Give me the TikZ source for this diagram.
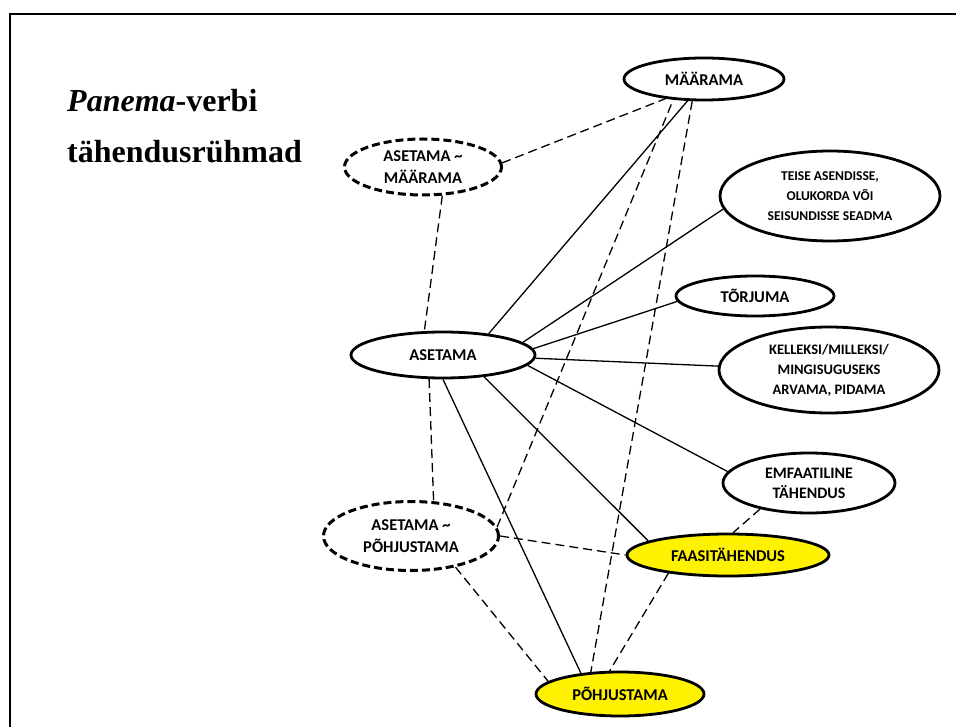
\documentclass[tikz,border=0pt]{standalone}
\usepackage{fontspec}
\setmainfont{Liberation Serif}
\newfontfamily\nodefont{Carlito}
\usetikzlibrary{shapes.geometric}
\begin{document}
\begin{tikzpicture}[x=1pt,y=-1pt,
  every node/.style={inner sep=0pt},
  oval/.style={ellipse, draw, line width=2.8pt, align=center,
    font=\nodefont\bfseries\fontsize{16.5}{22}\selectfont},
  dashoval/.style={oval, line width=3pt, dash pattern=on 8pt off 4pt},
  yel/.style={fill=yellow},
  link/.style={line width=1.3pt},
  dlink/.style={line width=1.3pt, dash pattern=on 9pt off 5pt},
  titletext/.style={anchor=base west, font=\bfseries\fontsize{32}{36}\selectfont}
]
\useasboundingbox (0,0) rectangle (956,727);
\draw[line width=2.6pt] (10,727) -- (10,14) -- (956,14);

\node[titletext] (t1) at (67,112) {\textit{Panema}-verbi};
\node[titletext] (t2) at (67,163) {tähendusrühmad};

\node[oval, minimum width=160pt, minimum height=42pt] (maar) at (704,79) {MÄÄRAMA};
\node[dashoval, minimum width=157pt, minimum height=56pt] (am) at (423,167) {ASETAMA \textasciitilde\\MÄÄRAMA};
\node[oval, minimum width=220pt, minimum height=90pt, font=\nodefont\bfseries\fontsize{13.5}{20}\selectfont] (teise) at (830,196) {TEISE ASENDISSE,\\OLUKORDA VÕI\\SEISUNDISSE SEADMA};
\node[oval, minimum width=158pt, minimum height=40pt] (torj) at (755,296) {TÕRJUMA};
\node[oval, minimum width=184pt, minimum height=46pt] (aset) at (443,355) {ASETAMA};
\node[oval, minimum width=220pt, minimum height=86pt, font=\nodefont\bfseries\fontsize{14.5}{20}\selectfont] (kell) at (829,370) {KELLEKSI/MILLEKSI/\\MINGISUGUSEKS\\ARVAMA, PIDAMA};
\node[oval, minimum width=172pt, minimum height=60pt, font=\nodefont\bfseries\fontsize{16}{20}\selectfont] (emf) at (809,483) {EMFAATILINE\\TÄHENDUS};
\node[dashoval, minimum width=175pt, minimum height=69pt] (ap) at (411,536) {ASETAMA \textasciitilde\\PÕHJUSTAMA};
\node[oval, yel, minimum width=202pt, minimum height=42pt] (faas) at (728,555) {FAASITÄHENDUS};
\node[oval, yel, minimum width=168pt, minimum height=44pt] (pohj) at (620,694) {PÕHJUSTAMA};

\draw[link] (aset.25) -- (maar.233);
\draw[link] (aset.9) -- (teise.187);
\draw[link] (aset.4) -- (torj.184);
\draw[link] (aset.-2) -- (kell.178);
\draw[link] (aset.-7) -- (emf.172);
\draw[link] (aset.-28) -- (faas.170);
\draw[link] (aset.-90) -- (pohj.152);

\draw[dlink] (am.3) -- (maar.207);
\draw[dlink] (am.-56) -- (aset.128);
\draw[dlink] (aset.240) -- (ap.57);
\draw[dlink] (ap.6) -- (maar.214);
\draw[dlink] (ap.0) -- (faas.180);
\draw[dlink] (ap.-35) -- (pohj.170);
\draw[dlink] (maar.242) -- (pohj.143);
\draw[dlink] (emf.208) -- (faas.77);
\draw[dlink] (faas.197) -- (pohj.114);
\end{tikzpicture}
\end{document}
